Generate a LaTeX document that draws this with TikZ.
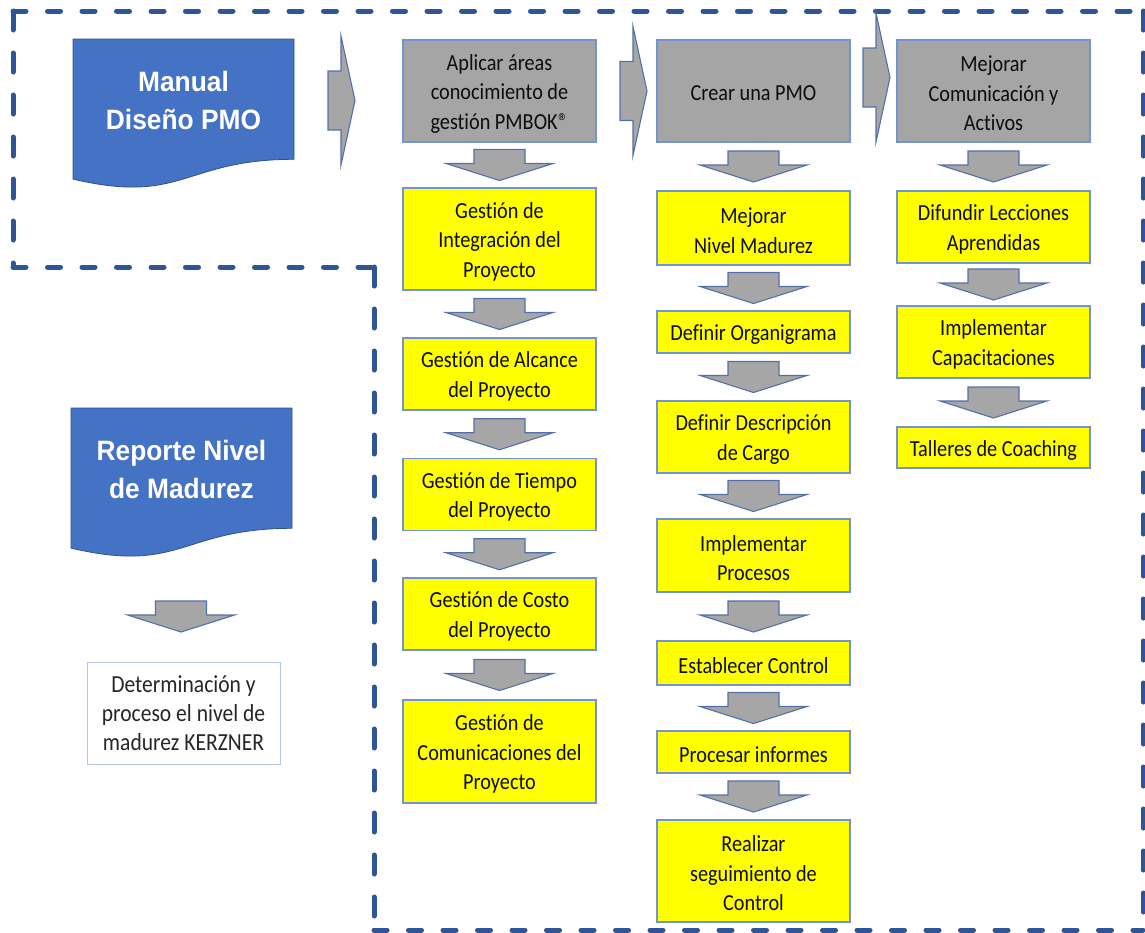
\documentclass[tikz,border=0pt]{standalone}
\usepackage{fontspec}
\setmainfont{Carlito}[FakeStretch=0.88, Ligatures=NoCommon]
\newfontfamily\titlefont{Liberation Sans}[FakeStretch=0.94]
\usetikzlibrary{calc}

\definecolor{docblue}{RGB}{68,114,196}
\definecolor{docedge}{RGB}{47,82,143}
\definecolor{frameblue}{RGB}{47,85,151}
\definecolor{boxedge}{RGB}{114,147,212}
\definecolor{hdrgray}{RGB}{165,165,165}
\definecolor{arrowgray}{RGB}{166,166,166}
\definecolor{arrowedge}{RGB}{84,112,170}
\definecolor{taskyellow}{RGB}{255,255,0}
\definecolor{whiteedge}{RGB}{180,199,231}

\tikzset{
  boxtext/.style={align=center, text=black!95, yshift=-2.5pt,
    font=\fontsize{23}{29.5}\selectfont},
  txt/.style={label={[boxtext]center:{#1}}},
  basebox/.style={draw=boxedge, line width=1.3pt, minimum width=193pt,
    inner sep=0pt},
  hdrbox/.style={basebox, fill=hdrgray, minimum height=102pt},
  taskbox/.style={basebox, fill=taskyellow},
  notebox/.style={draw=whiteedge, line width=1pt, fill=white,
    minimum width=193pt, minimum height=102pt, align=center,
    text=black!85, font=\fontsize{24.5}{29}\selectfont},
  doctitle/.style={align=center, text=white,
    font=\titlefont\fontsize{28}{38}\selectfont\bfseries},
  docbody/.style={fill=docblue, draw=docedge, line width=0.8pt},
  blockarrow/.style={fill=arrowgray, draw=arrowedge, line width=1.1pt,
    line join=miter},
  framehoriz/.style={draw=frameblue, line width=5pt, line cap=round,
    dash pattern=on 13pt off 21.5pt},
  framevert/.style={draw=frameblue, line width=5pt, line cap=round,
    dash pattern=on 19pt off 23pt},
  % wavy-bottom document shape, origin at top-left corner
  docshape/.pic={
    \path[docbody] (0,0) -- (221,0) -- (221,120.3)
      .. controls (110.5,120.3) and (110.5,166.1) .. (0,140.1) -- cycle;
  },
  % downward block arrow, origin at its centre
  downarr/.pic={
    \path[blockarrow] (-25.5,-15.5) -- (25.5,-15.5) -- (25.5,-1.5)
      -- (53.5,-1.5) -- (0,15.5) -- (-53.5,-1.5) -- (-25.5,-1.5) -- cycle;
  },
  % rightward block arrow, origin where shaft meets head
  rightarr/.pic={
    \path[blockarrow] (-13,-29.5) -- (0,-29.5) -- (0,-64.5) -- (14,0)
      -- (0,64.5) -- (0,29.5) -- (-13,29.5) -- cycle;
  },
}
\newcommand\regmark{\kern0.5pt{\fontsize{23}{23}\selectfont ®}}

\begin{document}
\begin{tikzpicture}[x=1pt,y=-1pt]
\useasboundingbox (0,0) rectangle (1145,932);

% dashed L-shaped frame
\path[framehoriz] (13,11) -- (1143,11);
\path[framevert]  (1143,11) -- (1143,930);
\path[framehoriz] (374,930) -- (1143,930);
\path[framevert]  (374,267) -- (374,930);
\path[framehoriz] (13,267) -- (374,267);
\path[framevert]  (13,11) -- (13,267);

% documents on the left
\pic at (73,39) {docshape};
\node[doctitle] (doc1) at (183.5,100) {Manual\\Diseño PMO};
\pic at (71,408) {docshape};
\node[doctitle] (doc2) at (181.5,469) {Reporte Nivel\\de Madurez};
\node[notebox] (kz) at (183.5,713) {Determinación y\\proceso el nivel de\\madurez KERZNER};
\pic at (181,616.5) {downarr};

% headers
\node[hdrbox, txt={Aplicar áreas\\conocimiento de\\gestión PMBOK\regmark}] (hdr1) at (499.5,91) {};
\node[hdrbox, txt={Crear una PMO}] (hdr2) at (753.5,91) {};
\node[hdrbox, txt={Mejorar\\Comunicación y\\Activos}] (hdr3) at (993.5,91) {};

\pic at (341,100.5) {rightarr};
\pic at (633,91) {rightarr};
\pic at (876,77.5) {rightarr};

% column 1
\node[taskbox, minimum height=102pt, txt={Gestión de\\Integración del\\Proyecto}] (g1) at (499.5,239) {};
\node[taskbox, minimum height=72pt, txt={Gestión de Alcance\\del Proyecto}] (g2) at (499.5,374) {};
\node[taskbox, minimum height=72pt, txt={Gestión de Tiempo\\del Proyecto}] (g3) at (499.5,494.5) {};
\node[taskbox, minimum height=72pt, txt={Gestión de Costo\\del Proyecto}] (g4) at (499.5,614) {};
\node[taskbox, minimum height=103pt, txt={Gestión de\\Comunicaciones del\\Proyecto}] (g5) at (499.5,751.5) {};

% column 2
\node[taskbox, minimum height=74pt, txt={Mejorar\\Nivel Madurez}] (p1) at (753.5,228) {};
\node[taskbox, minimum height=42pt, txt={Definir Organigrama}] (p2) at (753.5,332) {};
\node[taskbox, minimum height=72pt, txt={Definir Descripción\\de Cargo}] (p3) at (753.5,437) {};
\node[taskbox, minimum height=73pt, txt={Implementar\\Procesos}] (p4) at (753.5,555.5) {};
\node[taskbox, minimum height=44pt, txt={Establecer Control}] (p5) at (753.5,663) {};
\node[taskbox, minimum height=42pt, txt={Procesar informes}] (p6) at (753.5,752) {};
\node[taskbox, minimum height=102pt, txt={Realizar\\seguimiento de\\Control}] (p7) at (753.5,871) {};

% column 3
\node[taskbox, minimum height=72pt, txt={Difundir Lecciones\\Aprendidas}] (c1) at (993.5,227) {};
\node[taskbox, minimum height=72pt, txt={Implementar\\Capacitaciones}] (c2) at (993.5,342) {};
\node[taskbox, minimum height=41pt, txt={Talleres de Coaching}] (c3) at (993.5,447.5) {};

% downward arrows between consecutive boxes
\foreach \a/\b in {hdr1/g1, g1/g2, g2/g3, g3/g4, g4/g5,
                   hdr2/p1, p1/p2, p2/p3, p3/p4, p4/p5, p5/p6, p6/p7,
                   hdr3/c1, c1/c2, c2/c3}
  \pic at ($(\a.south)!0.5!(\b.north)$) {downarr};
\end{tikzpicture}
\end{document}
